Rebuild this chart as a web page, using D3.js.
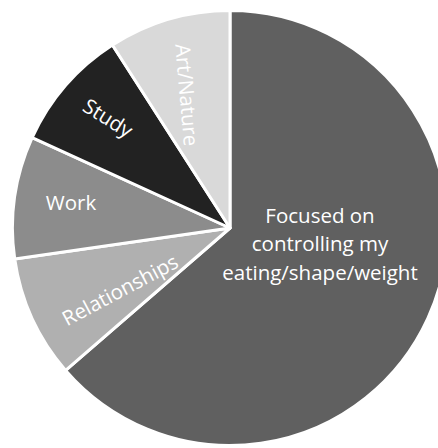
<!DOCTYPE html>
<html><head><meta charset="utf-8">
<script src="https://cdn.jsdelivr.net/npm/d3@7"></script>
<style>html,body{margin:0;padding:0;background:#fff;} svg{display:block;}</style>
</head><body>
<script>
// ---- data ----
const categories = ["Focused on controlling my eating/shape/weight", "Relationships", "Work", "Study", "Art/Nature"];
const values = [7, 1, 1, 1, 1];
const labelLines = [["Focused on", "controlling my", "eating/shape/weight"], ["Relationships"], ["Work"], ["Study"], ["Art/Nature"]];

// ---- layout / style ----
const W = 438, H = 448, cx = 230, cy = 228, R = 217.5;
const colors = ["#606060", "#b0b0b0", "#8c8c8c", "#222222", "#d9d9d9"];
// label centers relative to pie center, rotation in degrees
const labelLayout = [
  {dx: 90, dy: 16, rot: 0},
  {dx: -110, dy: 62, rot: -28},
  {dx: -159, dy: -25, rot: 0},
  {dx: -122, dy: -110, rot: 32},
  {dx: -43, dy: -133, rot: 85}
];
const fontSize = 20.5, lineGap = 28.5;

const svg = d3.select("body").append("svg").attr("width", W).attr("height", H);
const g = svg.append("g").attr("transform", `translate(${cx},${cy})`);

const color = d3.scaleOrdinal().domain(categories).range(colors);
const pie = d3.pie().sort(null).startAngle(0).endAngle(2 * Math.PI).value((d, i) => values[i]);
const arc = d3.arc().innerRadius(0).outerRadius(R);

const arcs = pie(categories);
g.selectAll("path.slice").data(arcs).join("path")
  .attr("class", "slice")
  .attr("d", arc)
  .attr("fill", d => color(d.data))
  .attr("stroke", "#fff")
  .attr("stroke-width", 3)
  .attr("stroke-linejoin", "round");

const labels = g.selectAll("text.lbl").data(arcs).join("text")
  .attr("class", "lbl")
  .attr("transform", (d, i) => `translate(${labelLayout[i].dx},${labelLayout[i].dy}) rotate(${labelLayout[i].rot})`)
  .attr("text-anchor", "middle")
  .attr("fill", "#fff")
  .style("font-family", "'Open Sans', 'Noto Sans', sans-serif")
  .style("font-size", fontSize + "px");

labels.each(function(d, i) {
  const lines = labelLines[i];
  const n = lines.length;
  d3.select(this).selectAll("tspan").data(lines).join("tspan")
    .attr("x", 0)
    .attr("y", (l, j) => (j - (n - 1) / 2) * lineGap)
    .attr("dy", "0.36em")
    .text(l => l);
});
</script>
</body></html>
